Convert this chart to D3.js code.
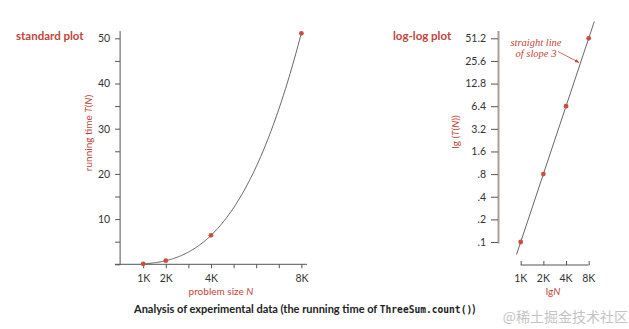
<!DOCTYPE html>
<html><head><meta charset="utf-8">
<script src="https://cdn.jsdelivr.net/npm/d3@7"></script>
<style>
body{margin:0;background:#fff}
svg{display:block}
</style></head>
<body><svg id="c" width="629" height="329" font-family="Lato, 'Open Sans', sans-serif"></svg>
<script>
// ---- data ----
const sizesK = [1, 2, 4, 8];              // problem size N (thousands)
const times = [0.1, 0.8, 6.4, 51.1];      // running time T(N) seconds
const xTicksStd = [1, 2, 3, 4, 5, 6, 7, 8];
const xLabelsStd = {1: "1K", 2: "2K", 4: "4K", 8: "8K"};
const yTicksStd = [0, 5, 10, 15, 20, 25, 30, 35, 40, 45, 50];
const yLabelsStd = [10, 20, 30, 40, 50];
const xTicksLog = [1, 2, 4, 8];
const xLabelsLog = ["1K", "2K", "4K", "8K"];
const yTicksLog = [0.1, 0.2, 0.4, 0.8, 1.6, 3.2, 6.4, 12.8, 25.6, 51.2];
const yLabelsLog = [".1", ".2", ".4", ".8", "1.6", "3.2", "6.4", "12.8", "25.6", "51.2"];
// model T(N) = a * N^b  ("straight line of slope 3")
const modelA = 0.1, modelB = 3;
const fitRangeLog = [0.88, 9.5];         // extent of the drawn fit line in log-log plot
const fitRangeStd = [1, 8];

const RED = "#c0463a", DOT = "#c9503f", INK = "#333", AX = "#555";
const svg = d3.select("#c");
const model = n => modelA * Math.pow(n, modelB);

// ---- standard plot ----
const xS = d3.scaleLinear().domain([0, 8]).range([120.6, 301.4]);
const yS = d3.scaleLinear().domain([0, 50]).range([264.3, 38.3]);
const gS = svg.append("g");
gS.append("line").attr("x1", xS(0)-0.5).attr("x2", xS(0)-0.5).attr("y1", yS(51.6)).attr("y2", yS(0)+0.5)
  .attr("stroke", AX).attr("stroke-width", 1);
gS.append("line").attr("x1", xS(-0.25)).attr("x2", xS(8.25)).attr("y1", yS(0)).attr("y2", yS(0))
  .attr("stroke", AX).attr("stroke-width", 1);
const axYS = d3.axisLeft(yS).tickValues(yTicksStd).tickSize(5).tickPadding(5)
  .tickFormat(d => yLabelsStd.includes(d) ? d : "");
gS.append("g").attr("transform", `translate(${xS(0)-0.5},0)`).call(axYS)
  .call(g => g.select(".domain").remove());
const axXS = d3.axisBottom(xS).tickValues(xTicksStd).tickSize(4).tickPadding(6)
  .tickFormat(d => xLabelsStd[d] || "");
gS.append("g").attr("transform", `translate(0,${yS(0)})`).call(axXS)
  .call(g => g.select(".domain").remove());
gS.selectAll(".tick line").attr("stroke", AX);
gS.selectAll(".tick text").attr("fill", INK).attr("font-size", 10.5).attr("font-family", "Lato, sans-serif");
const nsStd = d3.range(fitRangeStd[0], fitRangeStd[1] + 0.001, 0.05);
gS.append("path").datum(nsStd)
  .attr("d", d3.line().x(n => xS(n)).y(n => yS(model(n))))
  .attr("fill", "none").attr("stroke", "#555").attr("stroke-width", 0.9);
gS.selectAll("circle").data(sizesK).join("circle")
  .attr("cx", (d) => xS(d)).attr("cy", (d, i) => yS(times[i])).attr("r", 2.4).attr("fill", DOT);
svg.append("text").attr("x", 16).attr("y", 40).attr("fill", RED).attr("font-size", 11.5)
  .attr("font-weight", 700).text("standard plot");
const ylab = svg.append("text").attr("transform", "translate(92,133) rotate(-90)")
  .attr("text-anchor", "middle").attr("fill", RED).attr("font-size", 10);
ylab.append("tspan").text("running time ");
ylab.append("tspan").attr("font-style", "italic").text("T");
ylab.append("tspan").text("(");
ylab.append("tspan").attr("font-style", "italic").text("N");
ylab.append("tspan").text(")");
const xlab = svg.append("text").attr("x", 221).attr("y", 294.5).attr("text-anchor", "middle")
  .attr("fill", RED).attr("font-size", 10);
xlab.append("tspan").text("problem size ");
xlab.append("tspan").attr("font-style", "italic").text("N");

// ---- log-log plot ----
const xL = d3.scaleLog().base(2).domain([1, 8]).range([520.7, 588.7]);
const yL = d3.scaleLog().base(2).domain([0.1, 51.2]).range([242, 38.3]);
const gL = svg.append("g");
gL.append("line").attr("x1", 498.5).attr("x2", 498.5).attr("y1", 31).attr("y2", 243.5)
  .attr("stroke", "#a8a097").attr("stroke-width", 2);
const axYL = d3.axisLeft(yL).tickValues(yTicksLog).tickSize(7).tickPadding(5)
  .tickFormat((d, i) => yLabelsLog[i]);
gL.append("g").attr("transform", "translate(498,0)").call(axYL)
  .call(g => g.select(".domain").remove());
gL.append("line").attr("x1", xL(1)).attr("x2", xL(8)).attr("y1", 265).attr("y2", 265)
  .attr("stroke", AX);
const axXL = d3.axisTop(xL).tickValues(xTicksLog).tickSize(4).tickFormat("");
gL.append("g").attr("transform", "translate(0,265)").call(axXL)
  .call(g => g.select(".domain").remove());
gL.selectAll(".xl").data(xTicksLog).join("text").attr("class", "xl")
  .attr("x", d => xL(d)).attr("y", 282).attr("text-anchor", "middle")
  .text((d, i) => xLabelsLog[i]);
gL.selectAll(".tick line").attr("stroke", AX);
gL.selectAll("text").attr("fill", INK).attr("font-size", 10.5).attr("font-family", "Lato, sans-serif");
gL.append("path").datum(fitRangeLog)
  .attr("d", d3.line().x(n => xL(n)).y(n => yL(model(n))))
  .attr("fill", "none").attr("stroke", "#555").attr("stroke-width", 0.9);
gL.selectAll("circle").data(sizesK).join("circle")
  .attr("cx", d => xL(d)).attr("cy", (d, i) => yL(times[i])).attr("r", 2.4).attr("fill", DOT);
svg.append("text").attr("x", 393).attr("y", 40).attr("fill", RED).attr("font-size", 11.5)
  .attr("font-weight", 700).text("log-log plot");
const ylabL = svg.append("text").attr("transform", "translate(459,132) rotate(-90)")
  .attr("text-anchor", "middle").attr("fill", RED).attr("font-size", 10);
ylabL.append("tspan").text("lg (");
ylabL.append("tspan").attr("font-style", "italic").text("T");
ylabL.append("tspan").text("(");
ylabL.append("tspan").attr("font-style", "italic").text("N");
ylabL.append("tspan").text("))");
const xlabL = svg.append("text").attr("x", 553).attr("y", 294.5).attr("text-anchor", "middle")
  .attr("fill", RED).attr("font-size", 10);
xlabL.append("tspan").text("lg");
xlabL.append("tspan").attr("font-style", "italic").text("N");
svg.append("defs").append("marker").attr("id", "ah").attr("viewBox", "0 0 10 10")
  .attr("refX", 9).attr("refY", 5).attr("markerWidth", 6).attr("markerHeight", 6).attr("orient", "auto")
  .append("path").attr("d", "M0,1.5 L10,5 L0,8.5 Z").attr("fill", RED);
[["straight line", 46], ["of slope 3", 57]].forEach(([t, y]) =>
  svg.append("text").attr("x", 536).attr("y", y).attr("text-anchor", "middle")
    .attr("font-family", "'Liberation Serif', 'DejaVu Serif', serif").attr("font-style", "italic")
    .attr("font-size", 10.5).attr("fill", RED).text(t));
svg.append("line").attr("x1", 558).attr("y1", 51.5).attr("x2", 579).attr("y2", 62.5)
  .attr("stroke", RED).attr("stroke-width", 0.8).attr("marker-end", "url(#ah)");

// ---- caption & watermark ----
const cap = svg.append("text").attr("x", 134).attr("y", 313).attr("fill", "#222")
  .attr("font-size", 11).attr("font-weight", 700);
cap.append("tspan").text("Analysis of experimental data (the running time of ");
cap.append("tspan").attr("font-family", "'DejaVu Sans Mono', monospace").attr("font-size", 9.6).text("ThreeSum.count()");
cap.append("tspan").text(")");
svg.append("text").attr("x", 628).attr("y", 322).attr("text-anchor", "end")
  .attr("font-family", "'Noto Sans CJK SC', sans-serif").attr("font-size", 14)
  .attr("fill", "#c4c4c4").text("@稀土掘金技术社区");
</script></body></html>
